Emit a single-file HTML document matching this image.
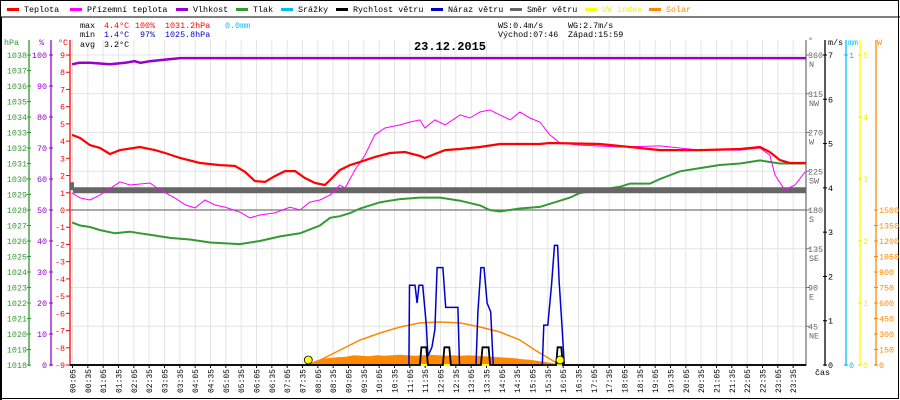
<!DOCTYPE html>
<html><head><meta charset="utf-8">
<style>
html,body{margin:0;padding:0;background:#fff;}
svg{display:block;font-family:"Liberation Mono",monospace;}
</style></head>
<body>
<svg id="chart" width="900" height="400" viewBox="0 0 900 400" xmlns="http://www.w3.org/2000/svg">
<rect x="0" y="0" width="900" height="400" fill="#fff"/>
<rect x="0.5" y="0.5" width="898" height="398" fill="none" stroke="#000"/>
<line x1="0" y1="17" x2="900" y2="17" stroke="#000"/>
<rect x="0" y="17" width="2" height="383" fill="#000"/>
<g id="grid"></g>
<g id="legend" font-size="8.4"></g>
<g font-size="8.4">
<text x="80" y="28" fill="#000">max</text><text x="104" y="28" fill="#f00">4.4°C</text><text x="135" y="28" fill="#f00">100%</text><text x="165" y="28" fill="#f00">1031.2hPa</text><text x="225" y="28" fill="#00bfff">0.0mm</text>
<text x="80" y="37" fill="#000">min</text><text x="104" y="37" fill="#00c">1.4°C</text><text x="140" y="37" fill="#00c">97%</text><text x="165" y="37" fill="#00c">1025.8hPa</text>
<text x="80" y="47" fill="#000">avg</text><text x="104" y="47" fill="#000">3.2°C</text>
<text x="498" y="28" fill="#000">WS:0.4m/s</text><text x="568" y="28" fill="#000">WG:2.7m/s</text>
<text x="498" y="37" fill="#000">Východ:07:46</text><text x="568" y="37" fill="#000">Západ:15:59</text>
</g>
<text x="450" y="50" text-anchor="middle" font-size="12" font-weight="bold" font-family="Liberation Mono, monospace">23.12.2015</text>
<g id="axes"></g>
<g id="series"></g>
</svg>
<script>
// ---- data ----
const tempHours=[0.07,0.33,0.65,0.98,1.3,1.63,2.28,2.77,3.1,3.59,4.24,4.89,5.38,5.71,6.03,6.36,6.68,7.01,7.34,7.66,7.99,8.31,8.48,8.8,9.13,9.46,9.94,10.43,10.92,11.41,11.57,11.9,12.23,12.72,13.37,14.02,15.32,15.65,17.28,18.26,19.24,20.54,21.85,22.5,22.82,23.15,23.48,24];
const tempValues=[4.36,4.18,3.77,3.6,3.25,3.48,3.66,3.48,3.31,3.02,2.73,2.61,2.56,2.21,1.68,1.63,1.97,2.26,2.26,1.86,1.57,1.45,1.74,2.32,2.61,2.79,3.08,3.31,3.37,3.14,3.02,3.25,3.48,3.54,3.66,3.83,3.83,3.89,3.83,3.66,3.48,3.48,3.54,3.66,3.37,2.9,2.73,2.73];
const appHours=[0.07,0.33,0.65,0.98,1.63,1.96,2.61,2.93,3.42,3.77,4.08,4.4,4.73,5.05,5.54,5.87,6.19,6.68,7.17,7.5,7.82,8.15,8.48,8.8,8.97,9.29,9.62,9.94,10.27,10.76,11.09,11.41,11.57,11.9,12.23,12.72,13.04,13.37,13.69,14.02,14.35,14.67,15.0,15.32,15.65,15.98,16.63,17.93,19.24,20.54,21.85,22.5,22.82,22.99,23.31,23.64,23.97];
const appValues=[0.99,0.7,0.58,0.87,1.63,1.45,1.57,1.16,0.7,0.29,0.12,0.58,0.29,0.17,-0.12,-0.46,-0.29,-0.17,0.17,0,0.46,0.58,0.87,1.45,1.28,2.32,3.19,4.36,4.76,4.94,5.11,5.23,4.76,5.23,4.94,5.52,5.34,5.69,5.81,5.52,5.23,5.69,5.34,5.11,4.36,3.89,3.77,3.66,3.72,3.48,3.48,3.6,3.19,2.03,1.16,1.45,2.21];
const humHours=[0.07,0.3,0.65,1.3,1.8,2.1,2.3,2.6,3.1,3.6,24];
const humValues=[97,97.5,97.5,97,97.5,98,97.5,98,98.5,99,99];
const presHours=[0.07,0.33,0.65,0.98,1.47,1.96,2.28,2.61,3.26,3.91,4.57,5.54,6.19,6.85,7.5,8.15,8.48,8.8,9.13,9.46,9.78,10.11,10.43,10.76,11.41,12.07,12.72,13.37,13.69,14.02,14.67,15.32,15.65,15.98,16.3,16.63,17.28,17.93,18.26,18.91,19.24,19.89,20.54,21.19,21.85,22.5,22.82,23.15,23.48,24];
const presValues=[1027.2,1027.0,1026.9,1026.7,1026.5,1026.6,1026.5,1026.4,1026.2,1026.1,1025.9,1025.8,1026.0,1026.3,1026.5,1027.0,1027.5,1027.6,1027.8,1028.1,1028.3,1028.5,1028.6,1028.7,1028.8,1028.8,1028.6,1028.3,1028.0,1027.9,1028.1,1028.2,1028.4,1028.6,1028.8,1029.1,1029.3,1029.5,1029.7,1029.7,1030.0,1030.5,1030.7,1030.9,1031.0,1031.2,1031.1,1031.0,1031.0,1031.0];
const dirHours=[0.1,24];
const dirValues=[203,203];
const gustHours=[0,11.05,11.07,11.25,11.32,11.38,11.5,11.62,11.67,11.8,11.9,11.97,12.16,12.25,12.65,12.7,13.24,13.3,13.4,13.5,13.6,13.72,13.8,15.4,15.45,15.58,15.7,15.8,15.9,15.95,16.05,16.12,24];
const gustValues=[0,0,1.8,1.8,1.4,1.8,1.8,0.9,0.2,0.4,0.8,2.2,2.2,1.3,1.3,0,0,1.2,2.2,2.2,1.4,1.2,0,0,0.9,0.9,1.8,2.7,2.7,1.9,0.8,0,0];
const speedHours=[0,11.41,11.46,11.62,11.67,12.16,12.21,12.37,12.42,13.4,13.45,13.65,13.7,15.85,15.9,16.02,16.07,24];
const speedValues=[0,0,0.4,0.4,0,0,0.4,0.4,0,0,0.4,0.4,0,0,0.4,0.4,0,0];
const solarHours=[7.75,8.0,8.25,8.5,8.75,9.0,9.25,9.5,9.75,10.0,10.25,10.5,10.75,11.0,11.25,11.5,11.75,12.0,12.25,12.5,12.75,13.0,13.25,13.5,13.75,14.0,14.25,14.5,14.75,15.0,15.25,15.5,15.75,16.0];
const solarValues=[0,40,60,70,75,80,95,90,85,95,90,95,100,95,90,95,100,95,90,95,90,95,90,85,80,75,70,65,55,50,40,30,15,0];
const maxSolarHours=[7.77,8.16,8.81,9.46,10.11,10.76,11.41,12.07,12.72,13.37,14.02,14.67,15.16,15.98];
const maxSolarValues=[0,48,145,242,310,368,407,416,407,368,319,242,145,0];
const uvHours=[0,24];
const uvValues=[0,0];
const xTickLabels=[];for(let h=0;h<24;h++){const hh=String(h).padStart(2,'0');xTickLabels.push(hh+':05',hh+':35');}
const sunTimes=[7.77,15.98];

// ---- scales ----
const X0=70,X1=806,Y0=365,Y1=55;
const xs=h=>X0+h*(X1-X0)/24;
const yT=t=>210-t*(Y0-Y1)/18;
const yH=p=>Y0-p*(Y0-Y1)/100;
const yP=p=>Y0-(p-1018)*(Y0-Y1)/20;
const yD=d=>Y0-d*(Y0-Y1)/360;
const yW=v=>Y0-v*(Y0-Y1)/7;
const yS=w=>Y0-w*(Y0-210)/1500;
const yU=u=>Y0-u*(Y0-Y1)/5;
const NS='http://www.w3.org/2000/svg';
function mk(tag,attrs,parent){const e=document.createElementNS(NS,tag);for(const k in attrs)e.setAttribute(k,attrs[k]);parent.appendChild(e);return e;}
function txt(s,attrs,parent){const e=mk('text',attrs,parent);e.textContent=s;return e;}

const grid=document.getElementById('grid');
for(let i=0;i<48;i++){const x=72.5+i*(X1-X0)/48;
 const l=mk('line',{x1:x,y1:40,x2:x,y2:Y0,stroke:'#e4e4e4','stroke-width':1},grid);
 
 }
for(let i=0;i<=8;i++){const y=Y1+i*(Y0-Y1)/8;
 const l=mk('line',{x1:X0,y1:y,x2:X1,y2:y,stroke:'#e4e4e4','stroke-width':1},grid);
 
 }
const zl=mk('line',{x1:X0,y1:yT(0),x2:X1,y2:yT(0),stroke:'#777','stroke-width':1.2},grid);



// legend
const legend=document.getElementById('legend');
const legItems=[['Teplota','#f00',7],['Přízemní teplota','#f0f',70],['Vlhkost','#90c',176],['Tlak','#393',236],['Srážky','#00bfff',281],['Rychlost větru','#000',336],['Náraz větru','#00c',431],['Směr větru','#666',510],['UV index','#ff0',585],['Solar','#f80',649]];
legItems.forEach(([n,c,x])=>{
 const r=mk('rect',{x:x,y:8,width:12,height:3,fill:c},legend);
 
 
 const t=txt(n,{x:x+17,y:12,fill:(c==='#ff0'?'#ee0':c==='#f80'?'#f80':'#000')},legend);
 
 
});

// axes
const ax=document.getElementById('axes');
function axisLine(x,color,name){const l=mk('line',{x1:x,y1:40,x2:x,y2:Y0+1,stroke:color,'stroke-width':1.3},ax);}
axisLine(29,'#393','pressure-axis');axisLine(51,'#90c','humidity-axis');axisLine(70,'#f00','temperature-axis');
axisLine(806,'#777','direction-axis');axisLine(825,'#000','wind-axis');axisLine(846,'#00bfff','rain-axis');axisLine(860,'#ff0','uv-axis');axisLine(876,'#f80','solar-axis');
function tick(x1,x2,y,c){mk('line',{x1:x1,y1:y,x2:x2,y2:y,stroke:c},ax);}
const fs={'font-size':8.4};
function lab(s,x,y,c,anchor,name){const t=txt(s,Object.assign({x:x,y:y+3,fill:c,'text-anchor':anchor},fs),ax);}
for(let p=1018;p<=1038;p++){const y=yP(p);tick(27,31,y,'#393');lab(String(p),27,y,'#393','end','pressure-tick');}
for(let h=0;h<=100;h+=10){const y=yH(h);tick(49,53,y,'#90c');lab(String(h),47,y,'#90c','end','humidity-tick');}
for(let t=-9;t<=9;t++){const y=yT(t);tick(66,70,y,'#f00');lab(String(t),65,y,'#f00','end','temperature-tick');}
const dirs=[[360,'N'],[315,'NW'],[270,'W'],[225,'SW'],[180,'S'],[135,'SE'],[90,'E'],[45,'NE']];
dirs.forEach(([d,n])=>{const y=yD(d);tick(806,810,y,'#777');lab(String(d),808,y,'#666','start','direction-tick');lab(n,809,y+9,'#666','start','direction-name');});
for(let v=0;v<=7;v++){const y=yW(v);tick(823,827,y,'#000');lab(String(v),828,y,'#000','start','wind-tick');}
[[0,Y0],[1,Y1]].forEach(([v,y])=>{tick(844,848,y,'#00bfff');lab(String(v),849,y,'#00bfff','start','rain-tick');});
for(let u=0;u<=5;u++){const y=yU(u);tick(858,862,y,'#ee0');lab(String(u),863,y,'#ee0','start','uv-tick');}
for(let w=0;w<=1500;w+=150){const y=yS(w);tick(874,878,y,'#f80');lab(String(w),879,y,'#f80','start','solar-tick');}
lab('hPa',4,42,'#393','start','pressure-unit');lab('%',39,42,'#90c','start','humidity-unit');lab('°C',58,42,'#f00','start','temperature-unit');
lab('°',808,40,'#666','start','direction-unit');lab('m/s',828,42,'#000','start','wind-unit');lab('mm',848,42,'#00bfff','start','rain-unit');lab('W',877,42,'#f80','start','solar-unit');
lab('čas',815,372,'#000','start','time-axis-title');
xTickLabels.forEach((s,i)=>{const x=72.5+i*(X1-X0)/48;
 mk('line',{x1:x,y1:Y0,x2:x,y2:Y0+3,stroke:'#000'},ax);
 const t=txt(s,{x:0,y:0,'font-size':8,fill:'#000','text-anchor':'end',transform:`translate(${x+3},${369}) rotate(-90)`},ax);
 
 });
mk('line',{x1:X0,y1:Y0,x2:X1,y2:Y0,stroke:'#000'},ax);

// series
const S=document.getElementById('series');
function path(hs,vs,yf){let d='';hs.forEach((h,i)=>{const x=xs(h),y=yf(vs[i]);d+=(i?'L':'M')+x.toFixed(1)+','+y.toFixed(1);});return d;}
let sd='M'+xs(solarHours[0])+','+Y0;
solarHours.forEach((h,i)=>{sd+='L'+xs(h).toFixed(1)+','+yS(solarValues[i]).toFixed(1);});
sd+='L'+xs(solarHours[solarHours.length-1])+','+Y0+'Z';
const sf=mk('path',{d:sd,fill:'#f80'},S);


const ms=mk('path',{d:path(maxSolarHours,maxSolarValues,yS),fill:'none',stroke:'#f80','stroke-width':1.5},S);


const uv=mk('path',{d:path(uvHours,uvValues,yU),fill:'none',stroke:'#ff0','stroke-width':2},S);


const pr=mk('path',{d:path(presHours,presValues,yP),fill:'none',stroke:'#393','stroke-width':2},S);


const dr=mk('path',{d:path(dirHours,dirValues,yD),fill:'none',stroke:'#666','stroke-width':6},S);


const db=mk('rect',{x:70,y:yD(dirValues[0])-8,width:4,height:8,fill:'#666'},S);


const ap=mk('path',{d:path(appHours,appValues,yT),fill:'none',stroke:'#f0f','stroke-width':1},S);


const tp=mk('path',{d:path(tempHours,tempValues,yT),fill:'none',stroke:'#f00','stroke-width':2.2},S);


const hm=mk('path',{d:path(humHours,humValues,yH),fill:'none',stroke:'#90c','stroke-width':2.5},S);


const gs=mk('path',{d:path(gustHours,gustValues,yW),fill:'none',stroke:'#00c','stroke-width':1.5},S);


const sp=mk('path',{d:path(speedHours,speedValues,yW),fill:'none',stroke:'#000','stroke-width':1.8},S);


sunTimes.forEach(h=>{const c=mk('circle',{cx:xs(h),cy:360,r:4,fill:'#ff0',stroke:'#000','stroke-width':0.8},S);
 
 });
</script>
</body></html>
